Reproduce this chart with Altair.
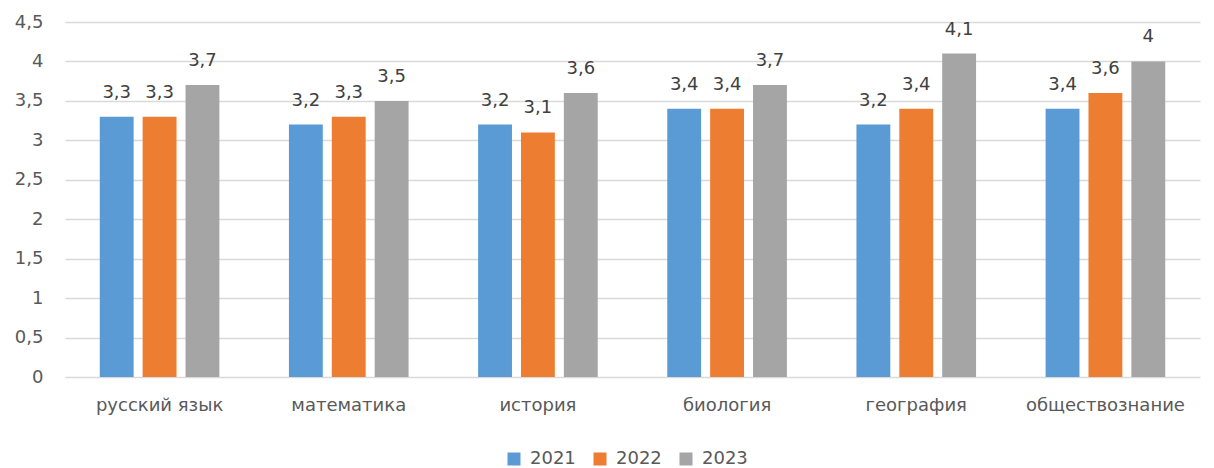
import altair as alt
import pandas as pd

subjects = ["русский язык", "математика", "история", "биология", "география", "обществознание"]
years = ["2021", "2022", "2023"]
v2021 = [3.3, 3.2, 3.2, 3.4, 3.2, 3.4]
v2022 = [3.3, 3.3, 3.1, 3.4, 3.4, 3.6]
v2023 = [3.7, 3.5, 3.6, 3.7, 4.1, 4.0]
colors = ["#5B9BD5", "#ED7D31", "#A5A5A5"]

rows = []
for i, s in enumerate(subjects):
    for y, vals in zip(years, [v2021, v2022, v2023]):
        rows.append({"subject": s, "year": y, "value": vals[i]})
df = pd.DataFrame(rows)

FONT = "DejaVu Sans"

x = alt.X("subject:N", sort=subjects, title=None,
          scale=alt.Scale(paddingInner=0.32, paddingOuter=0.16),
          axis=alt.Axis(labelAngle=0, labelFontSize=18, labelColor="#595959", labelFont=FONT,
                        domain=False, ticks=False, labelPadding=19, grid=False))
xo = alt.XOffset("year:N", sort=years, scale=alt.Scale(paddingInner=0.21, paddingOuter=0.105))
y = alt.Y("value:Q", title=None,
          scale=alt.Scale(domain=[0, 4.5], nice=False),
          axis=alt.Axis(values=[0, 0.5, 1, 1.5, 2, 2.5, 3, 3.5, 4, 4.5],
                        labelExpr="replace(toString(datum.value), '.', ',')",
                        labelFontSize=18, labelColor="#595959", labelFont=FONT,
                        domain=False, ticks=False, labelPadding=22,
                        gridColor="#D9D9D9", gridWidth=1.3))
color = alt.Color("year:N", sort=years,
                  scale=alt.Scale(domain=years, range=colors),
                  legend=alt.Legend(title=None, orient="none", direction="horizontal",
                                    legendX=440, legendY=428, symbolType="square",
                                    symbolSize=169, symbolStrokeWidth=0, labelFontSize=18,
                                    labelColor="#595959", labelFont=FONT, labelOffset=7,
                                    columnPadding=15))

base = alt.Chart(df)
bars = base.mark_bar(opacity=1).encode(x=x, xOffset=xo, y=y, color=color)
labels = base.mark_text(baseline="alphabetic", dy=-19, fontSize=18, color="#404040", font=FONT).encode(
    x=x, xOffset=xo, y=y,
    text=alt.Text("lbl:N"),
).transform_calculate(lbl="replace(toString(datum.value), '.', ',')")

chart = (bars + labels).properties(
    width=1135, height=355,
    autosize=alt.AutoSizeParams(type="none"),
    padding={"left": 57, "top": 14, "right": 6, "bottom": 90},
).configure(background="white").configure_view(stroke=None, strokeWidth=0)

chart.save("out.html", embed_options={"renderer": "svg", "actions": False})
